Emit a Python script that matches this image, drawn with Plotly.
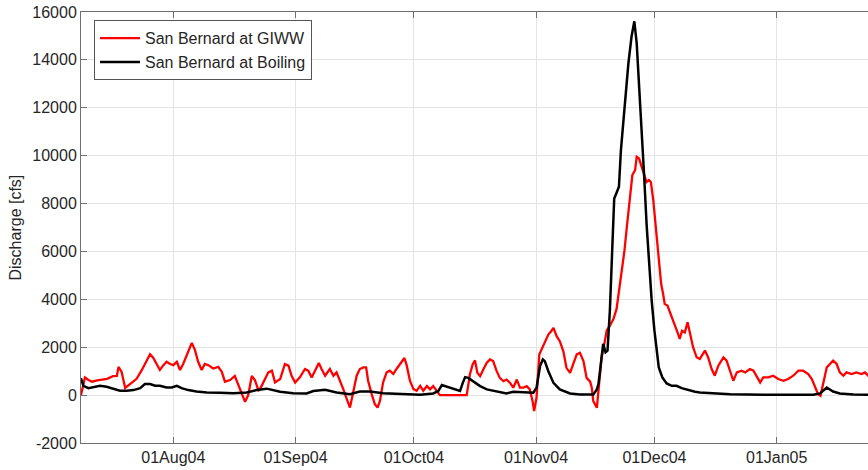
import pandas as pd
import plotly.graph_objects as go

# Record start (days are counted from this moment)
START = "2004-07-08 14:24"

# San Bernard at GIWW (red) - day offset, discharge [cfs]
giww_day = [0.0, 1.0, 1.8, 2.8, 4.1, 5.6, 6.6, 8.1, 9.1, 9.5, 10.3, 11.2, 12.9, 14.1, 15.4, 16.7,
            17.5, 18.3, 19.2, 20.0, 20.9, 21.7, 22.6, 23.4, 24.3, 25.1, 25.9, 26.8, 28.1, 28.9,
            29.7, 30.6, 31.4, 32.3, 33.5, 34.8, 35.7, 36.5, 37.8, 39.0, 39.9, 40.7, 41.6, 42.4,
            43.3, 44.1, 45.0, 45.4, 46.2, 47.5, 48.4, 49.2, 50.5, 51.7, 52.6, 53.4, 54.3, 55.5,
            56.8, 57.6, 58.5, 59.8, 60.3, 61.0, 61.9, 63.1, 64.0, 64.8, 65.7, 66.5, 67.4, 68.2,
            69.0, 69.9, 70.7, 71.6, 72.3, 72.8, 73.7, 74.5, 75.2, 75.8, 76.6, 77.5, 78.3, 79.2,
            80.0, 81.3, 82.0, 82.6, 83.4, 84.3, 85.1, 86.0, 86.8, 87.7, 88.5, 89.3, 90.2, 91.0,
            97.8, 98.6, 99.3, 99.9, 100.5, 101.2, 102.0, 102.9, 103.7, 104.5, 105.4, 106.2,
            107.1, 107.9, 108.8, 109.6, 110.5, 111.3, 112.1, 113.0, 113.8, 114.5, 114.9, 115.5,
            116.2, 116.8, 117.6, 118.5, 119.2, 119.8, 120.6, 121.4, 122.3, 123.1, 124.0, 124.8,
            125.7, 126.5, 127.4, 128.2, 129.1, 129.5, 129.9, 130.8, 131.3, 132.0, 132.7, 133.3,
            134.1, 135.0, 135.8, 136.2, 137.1, 137.8, 138.4, 139.2, 139.8, 140.5, 140.9, 141.5,
            142.2, 142.8, 143.4, 144.0, 144.5, 145.1, 145.7, 146.4, 147.1, 147.6, 148.0, 148.7,
            149.3, 149.9, 150.6, 151.3, 151.8, 152.4, 153.1, 153.8, 154.4, 155.2, 156.1, 156.9,
            158.2, 159.0, 159.9, 160.7, 161.6, 162.9, 163.7, 164.6, 165.4, 166.3, 167.5, 168.4,
            169.6, 170.5, 171.3, 172.2, 173.0, 174.3, 175.5, 176.8, 178.1, 179.3, 180.6, 181.9,
            183.1, 184.4, 185.3, 186.1, 186.9, 187.5, 188.2, 189.1, 189.9, 190.7, 191.6, 192.4,
            193.3, 194.1, 195.4, 196.6, 197.9, 198.8, 199.6, 200.6]
giww_q = [0, 740, 640, 560, 620, 650, 680, 790, 800, 1180, 970, 300, 530, 680, 1040, 1460,
          1710, 1560, 1300, 1050, 1250, 1390, 1300, 1250, 1390, 1050, 1300, 1670, 2180, 1880,
          1390, 1050, 1300, 1250, 1110, 1180, 970, 560, 630, 800, 420, 140, -280, 0,
          800, 630, 200, 250, 530, 950, 1020, 530, 670, 1300, 1230, 810, 530, 740,
          1090, 1020, 740, 1160, 1340, 1090, 810, 1090, 810, 950, 600, 250, -170, -520,
          110, 810, 1090, 1160, 1160, 600, 40, -380, -520, -240, 530, 950, 1020, 880,
          1090, 1370, 1550, 1230, 600, 250, 180, 390, 180, 375, 240, 375, 170, 0,
          0, 860, 1280, 1450, 930, 790, 1070, 1350, 1490, 1420, 1000, 720,
          580, 650, 510, 310, 650, 310, 310, 375, 240, -250, -670, -110,
          1700, 1900, 2180, 2530, 2670, 2810, 2460, 2250, 1830, 1140, 930, 1280,
          1700, 1770, 1420, 720, 560, 320, -250, -530, 460, 1580, 2140, 2700,
          2900, 3180, 3600, 4090, 5210, 6040, 7020, 8280, 9190, 9400, 9950, 9880,
          9530, 9250, 8900, 8980, 8900, 8140, 7160, 5770, 4650, 4230, 3810, 3740,
          3500, 3250, 2900, 2600, 2350, 2690, 2620, 3040, 2600, 2000, 1580, 1510,
          1860, 1580, 1090, 810, 1230, 1580, 1440, 950, 600, 950, 1020, 950,
          1090, 1020, 810, 530, 740, 740, 810, 670, 600, 670, 810, 1020,
          1020, 880, 670, 390, 40, -30, 460, 1160, 1300, 1440, 1300, 950,
          810, 950, 880, 950, 880, 950, 810, 850]

# San Bernard at Boiling (black) - day offset, discharge [cfs]
boil_day = [0.0, 0.6, 1.9, 3.1, 4.8, 6.5, 8.2, 9.9, 11.6, 13.3, 15.0, 16.2, 17.5, 18.8, 20.0,
            21.7, 23.0, 24.3, 25.5, 27.2, 29.3, 31.9, 35.2, 38.6, 42.0, 44.5, 47.1, 50.5, 53.8,
            57.2, 58.9, 61.9, 64.8, 68.2, 70.7, 73.3, 76.6, 80.9, 84.3, 86.0, 89.3, 90.6, 91.5,
            92.7, 94.4, 96.1, 96.8, 97.4, 98.2, 99.5, 101.2, 102.9, 105.4, 107.9, 109.6, 112.1,
            114.7, 115.5, 116.4, 117.1, 117.6, 118.5, 119.8, 121.4, 124.0, 126.5, 129.9, 130.8,
            131.2, 131.6, 132.0, 132.4, 133.0, 133.5, 134.1, 134.7, 135.2, 135.8, 136.4, 136.9,
            137.5, 138.1, 138.8, 139.6, 140.3, 140.9, 141.5, 142.2, 142.8, 143.4, 144.1, 144.7,
            145.4, 146.0, 146.5, 147.4, 148.5, 149.8, 151.0, 152.3, 154.0, 155.7, 156.9, 160.3,
            164.6, 173.0, 185.7, 187.4, 189.1, 190.7, 192.4, 195.8, 199.6, 200.6]
boil_q = [700, 390, 290, 320, 390, 350, 250, 180, 180, 210, 290, 460, 460, 390, 390,
          320, 320, 390, 290, 210, 150, 110, 100, 80, 110, 210, 270, 140, 80,
          70, 170, 220, 110, 40, 150, 150, 80, 40, 15, 20, 70, 170, 420,
          350, 280, 170, 510, 750, 720, 560, 375, 240, 170, 70, 140, 125,
          100, 310, 1210, 1490, 1420, 1000, 510, 240, 70, 30, 30, 240,
          460, 1000, 1720, 2140, 1790, 1860, 3530, 6320, 8210, 8450, 8700, 10230,
          11490, 12610, 13860, 14980, 15610, 14700, 13020, 11210, 9120, 7160, 5210, 3950,
          2690, 1860, 1160, 740, 490, 390, 390, 290, 210, 140, 110, 70,
          40, 15, 15, 70, 320, 150, 70, 30, 15, 15]

tick_dates = ["2004-08-01", "2004-09-01", "2004-10-01", "2004-11-01", "2004-12-01", "2005-01-01"]
tick_labels = ["01Aug04", "01Sep04", "01Oct04", "01Nov04", "01Dec04", "01Jan05"]
y_ticks = [-2000, 0, 2000, 4000, 6000, 8000, 10000, 12000, 14000, 16000]
y_labels = ["-2000", "0", "2000", "4000", "6000", "8000", "10000", "12000", "14000", "16000"]

start = pd.Timestamp(START)
giww_t = start + pd.to_timedelta(giww_day, unit="D")
boil_t = start + pd.to_timedelta(boil_day, unit="D")

FONT = "Liberation Sans, Arial, Helvetica, sans-serif"
TXT = "#262626"
AX = "#707070"
GRID = "#e4e4e4"
FS = 16

fig = go.Figure()
fig.add_trace(go.Scatter(x=giww_t, y=giww_q, mode="lines", name="San Bernard at GIWW",
                         line=dict(color="#ff0000", width=2.3)))
fig.add_trace(go.Scatter(x=boil_t, y=boil_q, mode="lines", name="San Bernard at Boiling",
                         line=dict(color="#000000", width=2.5)))

x_end = start + pd.Timedelta(days=199.55)

fig.update_layout(
    width=868, height=470,
    margin=dict(l=81, r=0, t=12, b=27, autoexpand=False),
    paper_bgcolor="white", plot_bgcolor="white",
    font=dict(family=FONT, size=FS, color=TXT),
    showlegend=True,
    legend=dict(x=0.0165, y=0.981, xanchor="left", yanchor="top",
                bgcolor="white", bordercolor="#555555", borderwidth=1,
                font=dict(family=FONT, size=FS, color=TXT),
                tracegroupgap=0, itemwidth=40),
    xaxis=dict(type="date", range=[start, x_end], tickvals=pd.to_datetime(tick_dates),
               ticktext=tick_labels, ticks="inside", ticklen=6, tickcolor=AX,
               showline=True, linecolor=AX, linewidth=1, mirror="ticks",
               showgrid=True, gridcolor=GRID, gridwidth=1, zeroline=False,
               automargin=False, tickfont=dict(family=FONT, size=FS, color=TXT)),
    yaxis=dict(range=[-2000, 16000], tickvals=y_ticks, ticktext=y_labels,
               ticks="inside", ticklen=6,
               tickcolor=AX, showline=True, linecolor=AX, linewidth=1, mirror=False,
               showgrid=True, gridcolor=GRID, gridwidth=1, zeroline=False,
               automargin=False, tickfont=dict(family=FONT, size=FS, color=TXT)),
    annotations=[dict(text="Discharge [cfs]", xref="paper", yref="paper",
                      x=(15 - 81) / 787, y=0.5, xanchor="center", yanchor="middle",
                      textangle=-90, showarrow=False,
                      font=dict(family=FONT, size=FS, color=TXT))],
)

fig.write_html("out.html")
